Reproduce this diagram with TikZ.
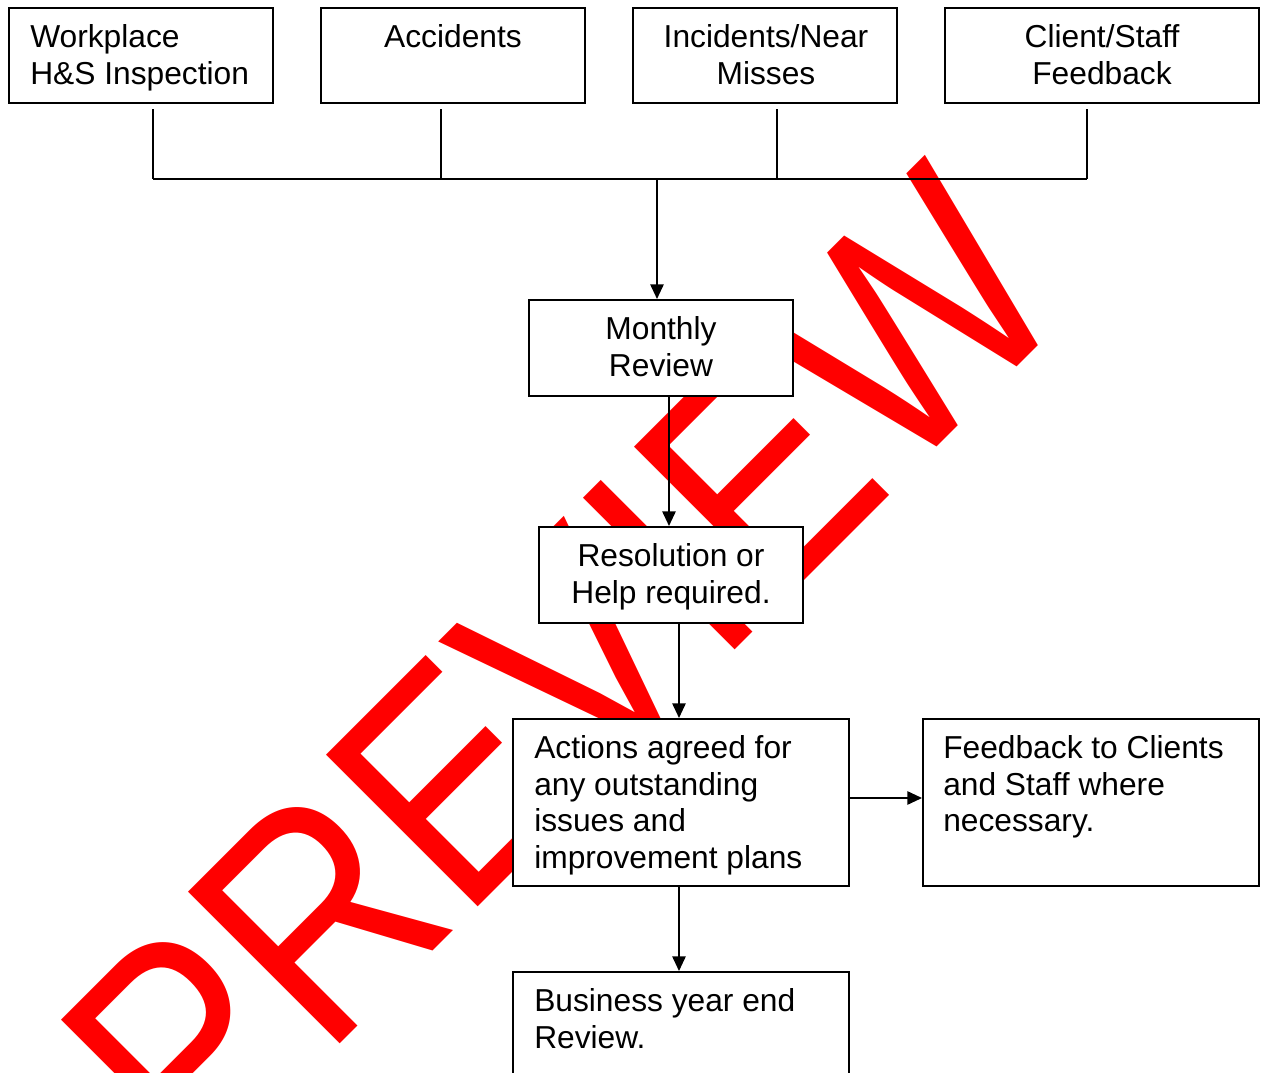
\documentclass[tikz,border=0pt]{standalone}
\usepackage{fontspec}
\setmainfont{Liberation Sans}
\usetikzlibrary{arrows.meta,calc}
\newlength\pxu
\setlength\pxu{0.75pt}
\definecolor{wmred}{RGB}{255,0,0}
\tikzset{
  boxst/.style={draw=black, fill=white, line width=1.5pt, inner sep=0pt, anchor=north west},
  txtbase/.style={inner sep=0pt, text=black, font=\fontsize{23.8pt}{27.5pt}\selectfont},
  txtl/.style={txtbase, anchor=base west},
  txtc/.style={txtbase, anchor=base},
  conn/.style={draw=black, line width=1.3pt},
  arr/.style={conn, -{Triangle[length=11pt, width=10pt]}},
  wm/.style={text=wmred, inner sep=0pt, anchor=base west, transform shape,
    font=\fontsize{202.5pt}{240pt}\selectfont}
}
\newcommand{\lbox}[1]{\parbox[t]{330\pxu}{\raggedright #1}}
\newcommand{\cbox}[1]{\parbox[t]{300\pxu}{\centering #1}}
\begin{document}
\begin{tikzpicture}[x=0.75pt, y=-0.75pt]
\clip (0,0) rectangle (1264,1073);
\fill[white] (0,0) rectangle (1264,1073);
% watermark
\begin{scope}[shift={(197,1187.4)}, rotate=45, yscale=1.155]
  \node[wm] (wmark) at (0,0) {PREVIEW};
\end{scope}
% boxes
\node[boxst, minimum width=264\pxu, minimum height=95\pxu] (b1) at (8,7) {};
\node[boxst, minimum width=264\pxu, minimum height=95\pxu] (b2) at (320,7) {};
\node[boxst, minimum width=264\pxu, minimum height=95\pxu] (b3) at (632,7) {};
\node[boxst, minimum width=314\pxu, minimum height=95\pxu] (b4) at (944,7) {};
\node[boxst, minimum width=264\pxu, minimum height=96\pxu] (mon) at (528,299) {};
\node[boxst, minimum width=264\pxu, minimum height=96\pxu] (res) at (538,526) {};
\node[boxst, minimum width=336\pxu, minimum height=167\pxu] (act) at (512,718) {};
\node[boxst, minimum width=336\pxu, minimum height=167\pxu] (fb) at (922,718) {};
\node[boxst, minimum width=336\pxu, minimum height=140\pxu] (bus) at (512,971) {};
% texts
\node[txtl] (t1) at ($(b1.north west)+(22,40.5)$) {\lbox{Workplace\\H\&S Inspection}};
\node[txtc] (t2) at ($(b2.north)+(0,40.5)$) {\cbox{Accidents}};
\node[txtc] (t3) at ($(b3.north)+(1,40.5)$) {\cbox{Incidents/Near\\Misses}};
\node[txtc] (t4) at ($(b4.north)+(0,40.5)$) {\cbox{Client/Staff\\Feedback}};
\node[txtc] (tmon) at ($(mon.north)+(0,40.5)$) {\cbox{Monthly\\Review}};
\node[txtc] (tres) at ($(res.north)+(0,40.5)$) {\cbox{Resolution or\\Help required.}};
\node[txtl] (tact) at ($(act.north west)+(22,40.5)$) {\lbox{Actions agreed for\\any outstanding\\issues and\\improvement plans}};
\node[txtl] (tfb) at ($(fb.north west)+(21,40.5)$) {\lbox{Feedback to Clients\\and Staff where\\necessary.}};
\node[txtl] (tbus) at ($(bus.north west)+(22,40.5)$) {\lbox{Business year end\\Review.}};
% connectors
\coordinate (bar) at (0,179);
\coordinate (p1) at ($(b1.south)+(12,5.5)$);
\coordinate (p2) at ($(b2.south)+(-12,5.5)$);
\coordinate (p3) at ($(b3.south)+(12,5.5)$);
\coordinate (p4) at ($(b4.south)+(-15,5.5)$);
\draw[conn] (p1) -- (p1 |- bar);
\draw[conn] (p2) -- (p2 |- bar);
\draw[conn] (p3) -- (p3 |- bar);
\draw[conn] (p4) -- (p4 |- bar);
\draw[conn] (p1 |- bar) -- (p4 |- bar);
\coordinate (m1) at ($(mon.north)+(-4,0)$);
\draw[arr] (m1 |- bar) -- (m1);
\draw[arr] ($(mon.south)+(8,0)$) -- ($(res.north)+(-2,0)$);
\draw[arr] ($(res.south)+(8,0)$) -- ($(act.north)+(-2,0)$);
\draw[arr] ($(act.east)+(0,-4.5)$) -- ($(fb.west)+(0,-4.5)$);
\draw[arr] ($(act.south)+(-2,0)$) -- ($(bus.north)+(-2,0)$);
\end{tikzpicture}
\end{document}
